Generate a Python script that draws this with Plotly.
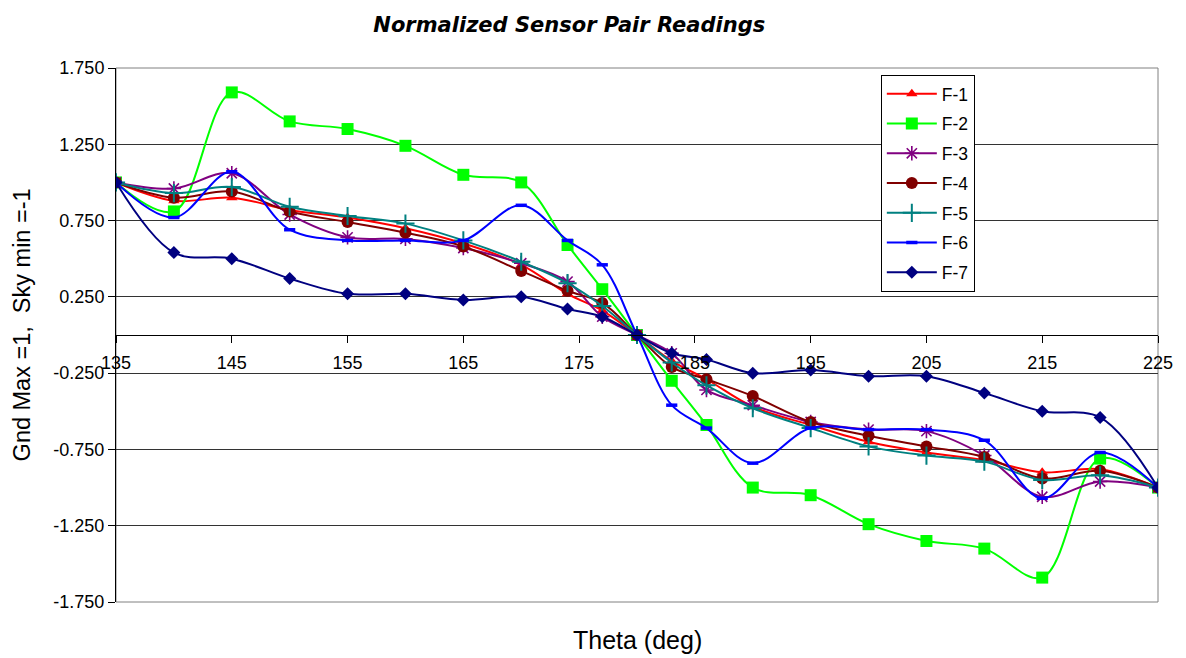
import plotly.graph_objects as go

# Rotation angle of the sensor pair (degrees)
theta = [135, 140, 145, 150, 155, 160, 165, 170, 174, 177, 180,
         183, 186, 190, 195, 200, 205, 210, 215, 220, 225]

# Normalized readings per sensor pair (ground max = 1, sky min = -1)
f1 = [1.00, 0.88, 0.90, 0.82, 0.77, 0.70, 0.60, 0.46, 0.27, 0.16, 0.00,
      -0.17, -0.29, -0.47, -0.59, -0.70, -0.77, -0.82, -0.90, -0.88, -1.00]
f2 = [1.00, 0.81, 1.59, 1.40, 1.35, 1.24, 1.05, 1.00, 0.59, 0.30, 0.00,
      -0.30, -0.59, -1.00, -1.05, -1.24, -1.35, -1.40, -1.59, -0.81, -1.00]
f3 = [1.00, 0.96, 1.06, 0.79, 0.64, 0.63, 0.57, 0.47, 0.35, 0.12, 0.00,
      -0.12, -0.36, -0.46, -0.57, -0.62, -0.63, -0.79, -1.06, -0.96, -1.00]
f4 = [1.00, 0.90, 0.94, 0.81, 0.74, 0.67, 0.58, 0.42, 0.29, 0.21, 0.00,
      -0.21, -0.29, -0.40, -0.57, -0.66, -0.73, -0.80, -0.94, -0.89, -1.00]
f5 = [1.00, 0.93, 0.97, 0.84, 0.78, 0.73, 0.62, 0.48, 0.34, 0.19, 0.00,
      -0.18, -0.33, -0.48, -0.61, -0.73, -0.79, -0.83, -0.95, -0.92, -1.00]
f6 = [1.00, 0.77, 1.07, 0.69, 0.62, 0.62, 0.62, 0.85, 0.62, 0.46, 0.00,
      -0.46, -0.61, -0.84, -0.61, -0.62, -0.62, -0.69, -1.07, -0.77, -1.00]
f7 = [1.00, 0.54, 0.50, 0.37, 0.27, 0.27, 0.23, 0.25, 0.17, 0.12, 0.00,
      -0.12, -0.16, -0.25, -0.23, -0.27, -0.27, -0.38, -0.50, -0.54, -1.00]

series_names = ["F-1", "F-2", "F-3", "F-4", "F-5", "F-6", "F-7"]
series_values = [f1, f2, f3, f4, f5, f6, f7]

x_ticks = [135, 145, 155, 165, 175, 185, 195, 205, 215, 225]
y_ticks = [-1.75, -1.25, -0.75, -0.25, 0.25, 0.75, 1.25, 1.75]
y_tick_labels = [f"{v:.3f}" for v in y_ticks]

styles = {
    "F-1": dict(color="#FF0000", symbol="triangle-up", size=10, lw=0),
    "F-2": dict(color="#00FF00", symbol="square", size=12, lw=0),
    "F-3": dict(color="#800080", symbol="asterisk-open", size=12, lw=1.6),
    "F-4": dict(color="#800000", symbol="circle", size=12, lw=0),
    "F-5": dict(color="#008080", symbol="cross-thin-open", size=13, lw=2),
    "F-6": dict(color="#0000FF", symbol="line-ew-open", size=8, lw=3.5),
    "F-7": dict(color="#000080", symbol="diamond", size=10, lw=0),
}

fig = go.Figure()
for name, vals in zip(series_names, series_values):
    s = styles[name]
    fig.add_trace(go.Scatter(
        x=theta, y=vals, name=name, legendgroup=name, mode="lines+markers",
        line=dict(color=s["color"], width=2, shape="spline", smoothing=1.0),
        marker=dict(symbol=s["symbol"], size=s["size"], color=s["color"],
                    line=dict(color=s["color"], width=s["lw"])),
    ))

# grey frame around the plotting area
fig.add_shape(type="rect", xref="paper", yref="paper", x0=0, y0=0, x1=1, y1=1,
              line=dict(color="#808080", width=1), layer="between")

fig.update_layout(
    width=1186, height=658,
    margin=dict(l=116, r=28, t=68, b=56),
    paper_bgcolor="white", plot_bgcolor="white",
    font=dict(family="Liberation Sans, Arial, sans-serif", color="black"),
    title=dict(text="Normalized Sensor Pair Readings",
               font=dict(family="DejaVu Sans", size=21, weight="bold",
                         style="italic", color="black"),
               xref="container", x=0.480, xanchor="center",
               yref="container", y=0.963, yanchor="middle"),
    showlegend=True,
    legend=dict(x=0.734, xanchor="left", y=0.987, yanchor="top",
                bgcolor="white", bordercolor="black", borderwidth=1,
                font=dict(family="Liberation Sans, Arial", size=17.5),
                itemwidth=50, tracegroupgap=4),
    xaxis=dict(range=[135, 225], tickvals=x_ticks, anchor="free", position=0.5,
               showline=True, linecolor="black", linewidth=1,
               ticks="outside", ticklen=7, tickcolor="black",
               showgrid=False, zeroline=False,
               tickfont=dict(size=18), ticklabelstandoff=4),
    yaxis=dict(range=[-1.75, 1.75], tickvals=y_ticks, ticktext=y_tick_labels,
               showline=True, linecolor="black", linewidth=1,
               ticks="outside", ticklen=7, tickcolor="black",
               showgrid=True, gridcolor="#333333", gridwidth=1,
               zeroline=False, tickfont=dict(size=18)),
    annotations=[
        dict(text="Gnd Max =1,  Sky min =-1", xref="paper", yref="paper",
             x=-0.0902, y=0.518, textangle=-90, showarrow=False,
             xanchor="center", yanchor="middle",
             font=dict(family="Liberation Sans, Arial", size=23.5, color="black")),
        dict(text="Theta (deg)", xref="paper", yref="paper",
             x=0.5, y=-0.0712, showarrow=False,
             xanchor="center", yanchor="middle",
             font=dict(family="Liberation Sans, Arial", size=25, color="black")),
    ],
)

fig.write_html("out.html")
